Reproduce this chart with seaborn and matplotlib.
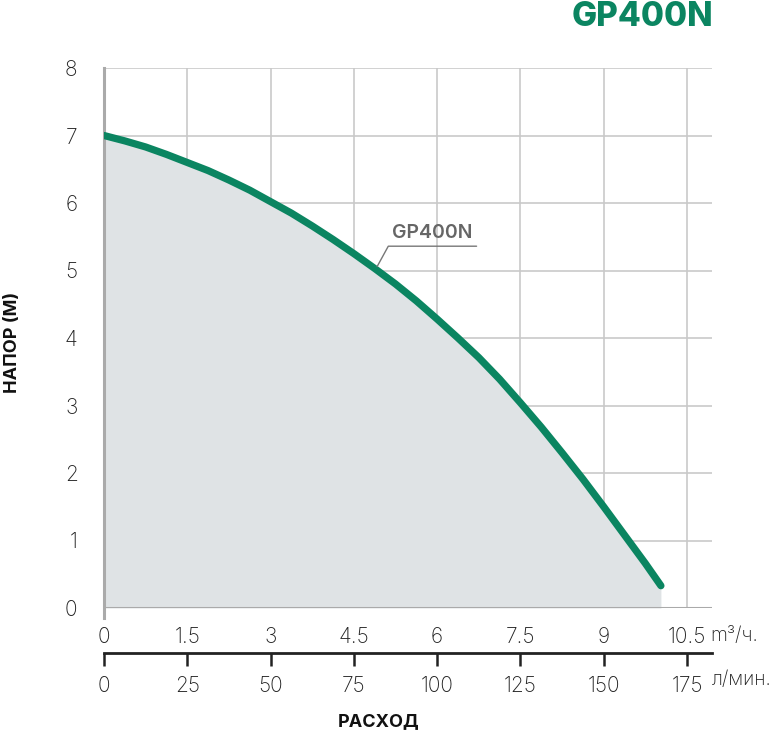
import matplotlib
matplotlib.use('Agg')
import matplotlib.pyplot as plt
import seaborn as sns
import pandas as pd

# данные кривой насоса (расход м3/ч -> напор м)
flow_m3h = [0, 0.375, 0.75, 1.125, 1.5, 1.875, 2.25, 2.625, 3, 3.375, 3.75, 4.125,
            4.5, 4.875, 5.25, 5.625, 6, 6.375, 6.75, 7.125, 7.5, 7.875, 8.25,
            8.625, 9, 9.375, 9.75, 10.03]
head_m = [7.0, 6.92, 6.83, 6.72, 6.60, 6.48, 6.34, 6.19, 6.02, 5.85, 5.66, 5.46,
          5.25, 5.03, 4.80, 4.55, 4.28, 4.00, 3.71, 3.39, 3.04, 2.68, 2.30,
          1.91, 1.50, 1.08, 0.66, 0.33]
x_ticks = [0, 1.5, 3, 4.5, 6, 7.5, 9, 10.5]
x_labels = ['0', '1.5', '3', '4.5', '6', '7.5', '9', '10.5']
lmin_ticks = [0, 25, 50, 75, 100, 125, 150, 175]
y_ticks = [0, 1, 2, 3, 4, 5, 6, 7, 8]
model = 'GP400N'

green = '#0b8561'
gray_grid = '#c9c9c9'
txt = '#222222'

sns.set_style('white')
plt.rcParams['font.family'] = ['Inter', 'DejaVu Sans']

df = pd.DataFrame({'flow': flow_m3h, 'head': head_m})

fig = plt.figure(figsize=(7.8, 7.35), dpi=100)
ax = fig.add_axes([104 / 780, 1 - 608 / 735, 608 / 780, 540 / 735])

# заливка под кривой
ax.fill_between(df['flow'], 0, df['head'], color='#dfe3e5', lw=0, zorder=1)
sns.lineplot(data=df, x='flow', y='head', color=green, lw=5.2, ax=ax,
             zorder=4, solid_capstyle='round', solid_joinstyle='round')

ax.set_xlim(0, 10.95)
ax.set_ylim(0, 8)
ax.set_xticks(x_ticks)
ax.set_xticklabels(x_labels)
ax.set_yticks(y_ticks)
ax.grid(True, color=gray_grid, lw=1.2, zorder=0)
ax.set_axisbelow(True)
for s in ['top', 'right', 'bottom']:
    ax.spines[s].set_visible(False)
ax.spines['left'].set_color('#aaaaaa')
ax.spines['left'].set_linewidth(2.2)
ax.spines['left'].set_bounds(-0.15, 8)
ax.axhline(0, color='#aaaaaa', lw=2.2, zorder=2)

ax.tick_params(axis='y', length=5, color='#e8c8c8', width=1, pad=14,
               labelsize=15, labelcolor=txt)
ax.tick_params(axis='x', length=0, pad=14, labelsize=15, labelcolor=txt)
for lbl in ax.get_xticklabels() + ax.get_yticklabels():
    lbl.set_fontweight('light')
ax.set_xlabel('')
ax.set_ylabel('')

# вторая шкала л/мин
sec = ax.secondary_xaxis(-0.083, functions=(lambda q: q * 50 / 3, lambda l: l * 3 / 50))
sec.set_xticks(lmin_ticks)
sec.spines['bottom'].set_color(txt)
sec.spines['bottom'].set_linewidth(2)
sec.tick_params(axis='x', direction='out', length=9, width=1.8, color=txt,
                pad=8, labelsize=15, labelcolor=txt)
for lbl in sec.get_xticklabels():
    lbl.set_fontweight('light')

fig.text(710 / 780, 1 - 636 / 735, 'm³/ч.', fontsize=14, color=txt,
         ha='left', va='center', fontweight='light')
fig.text(712 / 780, 1 - 680 / 735, 'л/мин.', fontsize=14, color=txt,
         ha='left', va='center', fontweight='light')

# подписи осей
fig.text(379 / 780, 1 - 722 / 735, 'РАСХОД', fontsize=13, fontweight='bold',
         ha='center', va='center', color='#111111')
fig.text(13 / 780, 1 - 342 / 735, 'НАПОР (М)', fontsize=13, fontweight='bold',
         ha='center', va='center', rotation=90, color='#111111')

# заголовок
fig.text(713 / 780, 1 - 17 / 735, model, fontsize=24, fontweight='heavy',
         ha='right', va='center', color=green)

# выноска
ax.plot([4.92, 5.12, 6.71], [5.06, 5.36, 5.36], color='#777777', lw=1, zorder=5)
ax.text(5.91, 5.42, model, fontsize=14, fontweight='semibold', color='#666666',
        ha='center', va='bottom', zorder=5)

fig.savefig('out.png', dpi=100)
